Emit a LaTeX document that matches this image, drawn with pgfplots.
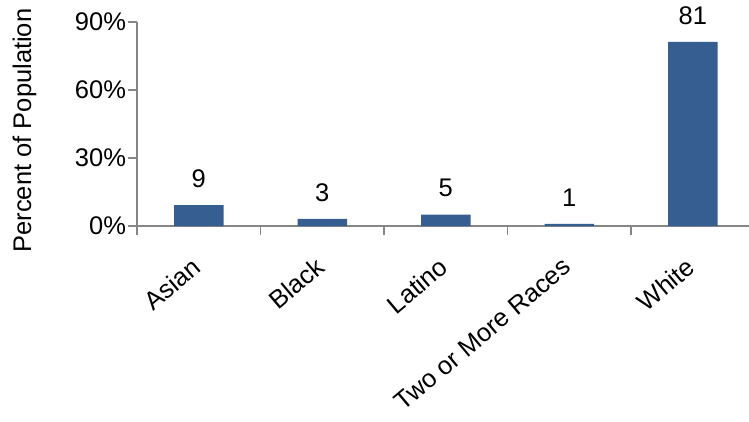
\documentclass[border=0pt]{standalone}
\usepackage{pgfplots}
\pgfplotsset{compat=1.18}
\usepackage{fontspec}
\setmainfont{Liberation Sans}
\definecolor{barblue}{RGB}{54,94,145}
\definecolor{axgray}{RGB}{134,134,134}
\begin{document}
\begin{tikzpicture}
\begin{axis}[
  at={(137pt,-226pt)}, anchor=south west,
  scale only axis, width=612pt, height=204pt,
  xmin=-0.5, xmax=4.4555, ymin=0, ymax=90,
  ybar, bar width=49.5pt,
  axis x line*=bottom, axis y line*=left,
  axis line style={axgray, line width=1.3pt, -},
  tick align=outside, major tick length=8.5pt,
  tick style={axgray, line width=1.3pt},
  /pgf/number format/assume math mode=true,
  ytick={0,30,60,90}, yticklabels={0\%,30\%,60\%,90\%},
  yticklabel style={font=\fontsize{25.5}{30}\selectfont, text=black, xshift=1pt},
  xtick={-0.5,0.5,1.5,2.5,3.5}, xticklabels={,,,,},
  extra x ticks={0,1,2,3,4},
  extra x tick labels={Asian,Black,Latino,Two or More Races,White},
  extra x tick style={major tick length=0pt},
  xticklabel style={font=\fontsize{25.5}{30}\selectfont, text=black, inner sep=0pt,
    xshift=-8pt, yshift=-30pt, rotate=40, anchor=north east},
  ylabel={Percent of Population},
  every axis y label/.style={at={(axis description cs:-0.1837,0.468)}, rotate=90, anchor=center, font=\fontsize{25.5}{30}\selectfont},
  nodes near coords={\pgfmathprintnumber[fixed,precision=0]{\pgfplotspointmeta}},
  every node near coord/.append style={font=\fontsize{25.5}{30}\selectfont, text=black, anchor=south, inner sep=0pt, yshift=17.5pt},
]
\addplot[fill=barblue, draw=none] coordinates {(0,9.2) (1,3.1) (2,5.0) (3,0.9) (4,81.2)};
\end{axis}
\pgfresetboundingbox
\path[use as bounding box] (0,0) rectangle (749pt,-422pt);
\end{tikzpicture}
\end{document}
